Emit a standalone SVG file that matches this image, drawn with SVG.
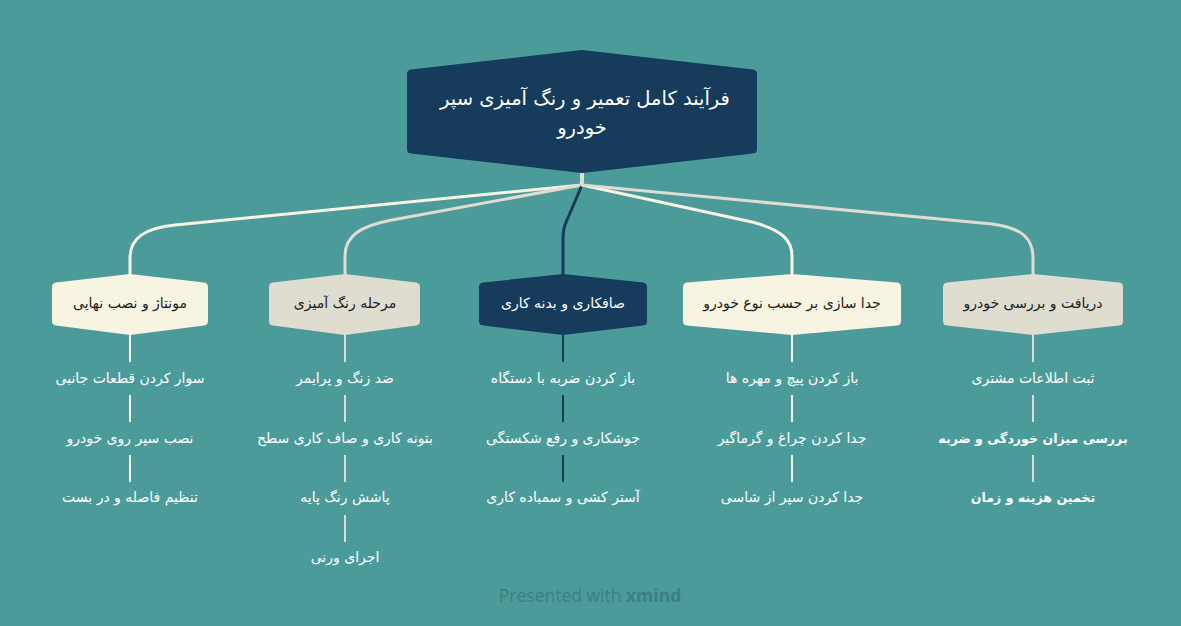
<svg xmlns="http://www.w3.org/2000/svg" width="1181" height="626" viewBox="0 0 1181 626">
<style>
  text { font-family: "DejaVu Sans", "Liberation Sans", "Noto Sans", sans-serif; text-anchor: middle; dominant-baseline: central; }
  .root { fill: #ffffff; font-size: 19.5px; }
  .br { font-size: 14px; fill: #1b1b1b; }
  .brw { font-size: 14px; fill: #ffffff; }
  .leaf { font-size: 14px; fill: #ffffff; }
  .bold { font-weight: bold; font-size: 12.6px; }
  .c { fill: none; stroke-width: 3; stroke-linecap: round; stroke-linejoin: round; }
  .l { fill: none; stroke-width: 2; }
  .cream { stroke: #F8F4E2; }
  .beige { stroke: #DFDDD0; }
  .navy { stroke: #163B5B; }
</style>
<rect width="1181" height="626" fill="#4B9B9B"/>
<g id="connectors">
  <path class="c cream" d="M582,173 L582,185 L175,225 C145,228 130,238 130,258 L130,274"/>
  <path class="c beige" d="M582,173 L582,185 L392,220 C360,226 345,236 345,256 L345,274"/>
  <path class="c navy" d="M582,185 L567,220 Q563,228 563,238 L563,274"/>
  <path class="c cream" d="M582,173 L582,185 L752,222 C782,230 792,240 792,256 L792,274"/>
  <path class="c beige" d="M582,173 L582,185 L992,224 C1024,228 1033,240 1033,258 L1033,274"/>
  <g class="l cream">
    <line x1="130" y1="335" x2="130" y2="362"/>
    <line x1="130" y1="395" x2="130" y2="422"/>
    <line x1="130" y1="455" x2="130" y2="482"/>
    <line x1="792" y1="335" x2="792" y2="362"/>
    <line x1="792" y1="395" x2="792" y2="422"/>
    <line x1="792" y1="455" x2="792" y2="482"/>
  </g>
  <g class="l beige">
    <line x1="345" y1="335" x2="345" y2="362"/>
    <line x1="345" y1="395" x2="345" y2="422"/>
    <line x1="345" y1="455" x2="345" y2="482"/>
    <line x1="345" y1="515" x2="345" y2="542"/>
    <line x1="1033" y1="335" x2="1033" y2="362"/>
    <line x1="1033" y1="395" x2="1033" y2="422"/>
    <line x1="1033" y1="455" x2="1033" y2="482"/>
  </g>
  <g class="l navy">
    <line x1="563" y1="335" x2="563" y2="362"/>
    <line x1="563" y1="395" x2="563" y2="422"/>
    <line x1="563" y1="455" x2="563" y2="482"/>
  </g>
</g>
<g id="root">
  <path fill="#163B5B" d="M407,74 Q407,70 411,69.5 L582,50 L753,69.5 Q757,70 757,74 L757,149 Q757,153 753,153.5 L582,173 L411,153.5 Q407,153 407,149 Z"/>
  <text class="root" x="585" y="98">فرآیند کامل تعمیر و رنگ آمیزی سپر</text>
  <text class="root" x="582" y="127">خودرو</text>
</g>
<g id="n1">
  <path fill="#F8F4E2" d="M52,287 Q52,283 56,282.5 L130,274 L204,282.5 Q208,283 208,287 L208,321 Q208,325 204,325.5 L130,335 L56,325.5 Q52,325 52,321 Z"/>
  <text class="br" x="130" y="303">مونتاژ و نصب نهایی</text>
</g>
<g id="n1-leaves">
  <text class="leaf" x="130" y="378">سوار کردن قطعات جانبی</text>
  <text class="leaf" x="130" y="438">نصب سپر روی خودرو</text>
  <text class="leaf" x="130" y="497">تنظیم فاصله و در بست</text>
</g>
<g id="n2">
  <path fill="#DFDDD0" d="M269,287 Q269,283 273,282.5 L345,274 L416,282.5 Q420,283 420,287 L420,321 Q420,325 416,325.5 L345,335 L273,325.5 Q269,325 269,321 Z"/>
  <text class="br" x="345" y="303">مرحله رنگ آمیزی</text>
</g>
<g id="n2-leaves">
  <text class="leaf" x="345" y="378">ضد زنگ و پرایمر</text>
  <text class="leaf" x="345" y="438">بتونه کاری و صاف کاری سطح</text>
  <text class="leaf" x="345" y="497">پاشش رنگ پایه</text>
  <text class="leaf" x="345" y="557">اجرای ورنی</text>
</g>
<g id="n3">
  <path fill="#163B5B" d="M479,287 Q479,283 483,282.5 L563,274 L643,282.5 Q647,283 647,287 L647,321 Q647,325 643,325.5 L563,335 L483,325.5 Q479,325 479,321 Z"/>
  <text class="brw" x="563" y="303">صافکاری و بدنه کاری</text>
</g>
<g id="n3-leaves">
  <text class="leaf" x="563" y="378">باز کردن ضربه با دستگاه</text>
  <text class="leaf" x="563" y="438">جوشکاری و رفع شکستگی</text>
  <text class="leaf" x="563" y="497">آستر کشی و سمباده کاری</text>
</g>
<g id="n4">
  <path fill="#F8F4E2" d="M683,287 Q683,283 687,282.5 L792,274 L897,282.5 Q901,283 901,287 L901,321 Q901,325 897,325.5 L792,335 L687,325.5 Q683,325 683,321 Z"/>
  <text class="br" x="792" y="303">جدا سازی بر حسب نوع خودرو</text>
</g>
<g id="n4-leaves">
  <text class="leaf" x="792" y="378">باز کردن پیچ و مهره ها</text>
  <text class="leaf" x="792" y="438">جدا کردن چراغ و گرماگیر</text>
  <text class="leaf" x="792" y="497">جدا کردن سپر از شاسی</text>
</g>
<g id="n5">
  <path fill="#DFDDD0" d="M943,287 Q943,283 947,282.5 L1033,274 L1119,282.5 Q1123,283 1123,287 L1123,321 Q1123,325 1119,325.5 L1033,335 L947,325.5 Q943,325 943,321 Z"/>
  <text class="br" x="1033" y="303">دریافت و بررسی خودرو</text>
</g>
<g id="n5-leaves">
  <text class="leaf" x="1033" y="378">ثبت اطلاعات مشتری</text>
  <text class="leaf bold" x="1033" y="438">بررسی میزان خوردگی و ضربه</text>
  <text class="leaf bold" x="1033" y="497">تخمین هزینه و زمان</text>
</g>
<text x="590" y="595" style="font-family: 'Open Sans', 'Liberation Sans', sans-serif; font-size: 17.5px; fill: #3A8081;">Presented with <tspan font-weight="bold">xmind</tspan></text>
</svg>
